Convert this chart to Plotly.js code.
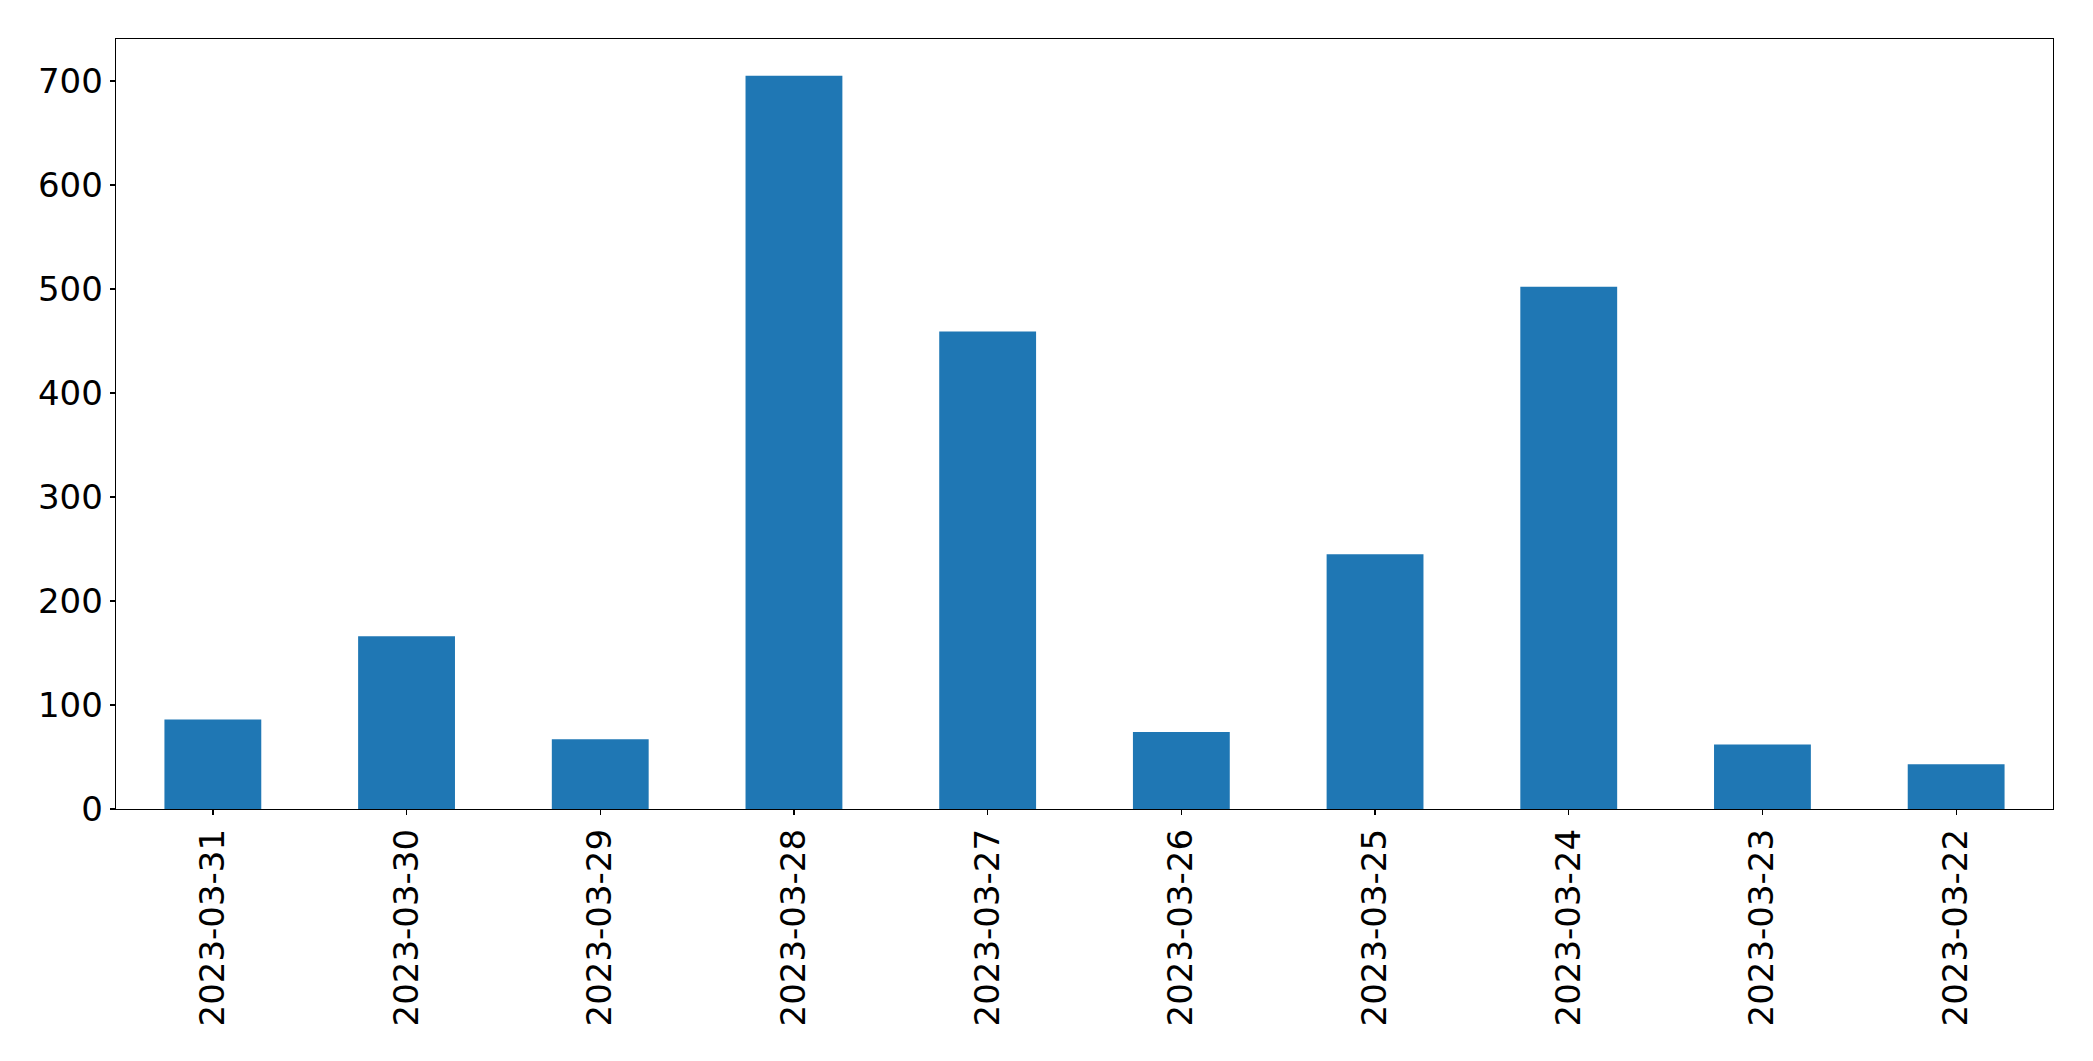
<!DOCTYPE html>
<html>
<head>
<meta charset="utf-8">
<script src="https://cdn.plot.ly/plotly-3.0.1.min.js"></script>
<style>
  html, body { margin: 0; padding: 0; background: #fff; }
  #chart { width: 2093px; height: 1061px; }
</style>
</head>
<body>
<div id="chart"></div>
<script>
const dates = ["2023-03-31", "2023-03-30", "2023-03-29", "2023-03-28", "2023-03-27",
               "2023-03-26", "2023-03-25", "2023-03-24", "2023-03-23", "2023-03-22"];
const counts = [86, 166, 67, 705, 459, 74, 245, 502, 62, 43];
const yTicks = [0, 100, 200, 300, 400, 500, 600, 700];

const trace = {
  type: "bar",
  x: dates,
  y: counts,
  width: 0.5,
  marker: { color: "#1f77b4", line: { width: 0 } },
  hoverinfo: "x+y"
};

const font = { family: "DejaVu Sans, sans-serif", size: 34, color: "#000" };

const layout = {
  width: 2093,
  height: 1061,
  margin: { l: 116, r: 40, t: 39, b: 252 },
  paper_bgcolor: "#fff",
  plot_bgcolor: "#fff",
  showlegend: false,
  bargap: 0.5,
  font: font,
  xaxis: {
    type: "category",
    range: [-0.5, dates.length - 0.5],
    tickangle: -90,
    ticks: "outside",
    ticklen: 5,
    tickwidth: 1.3,
    tickcolor: "#000",
    showline: true,
    linecolor: "#000",
    linewidth: 1.3,
    mirror: true,
    showgrid: false,
    zeroline: false,
    tickfont: font,
    fixedrange: true
  },
  yaxis: {
    range: [0, 740.25],
    tickvals: yTicks,
    ticktext: yTicks.map(String),
    ticks: "outside",
    ticklen: 5,
    tickwidth: 1.3,
    tickcolor: "#000",
    showline: true,
    linecolor: "#000",
    linewidth: 1.3,
    mirror: true,
    showgrid: false,
    zeroline: false,
    tickfont: font,
    fixedrange: true
  }
};

Plotly.newPlot("chart", [trace], layout, { displayModeBar: false, staticPlot: true });
</script>
</body>
</html>
